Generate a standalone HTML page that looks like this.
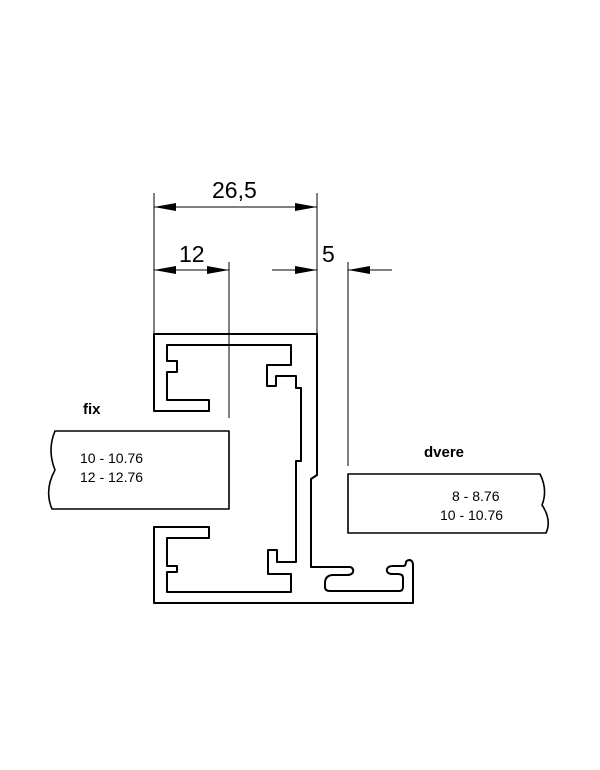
<!DOCTYPE html>
<html><head><style>body{margin:0;background:#fff}svg{display:block}</style></head><body>
<svg width="600" height="770" viewBox="0 0 600 770" xmlns="http://www.w3.org/2000/svg">
<rect width="600" height="770" fill="#fff"/>
<g stroke="#000" fill="none" stroke-linejoin="round">
<path stroke-width="2" d="M154,334 H317 V475 L311,479 V567 H350 Q354,568 353,572 Q352,575 347,575 H332 Q325,576 325,583 V587 Q325,591 330,591 H399 Q403,591 403,587 V578 Q403,574 398,574 H391 Q386,573 387,569 Q388,566 393,566 H403 Q406,566 406,562 Q407,560 410,560 Q413,561 413,565 V603 H154 V527 H209 V538 H167 V566 H177 V572 H167 V592 H291 V574 H268 V550 H277 V562 H296 V461 H301 V388 H296 V376 H276 V386 H267 V365 H291 V345 H167 V361 H177 V372 H167 V400 H209 V411 H154 Z"/>
<g stroke-width="1">
<path d="M154,193 V334 M317,193 V334 M229,262 V418 M348,262 V466"/>
<path d="M154,207 H317 M154,270 H229 M272,270 H317 M348,270 H392"/>
</g>
<path stroke-width="1.6" d="M229,431 H55 Q47,450 55,470 Q44,490 52,509 H229 Z"/>
<path stroke-width="1.6" d="M348,474 H540 Q548,490 542,505 Q552,520 546,533 H348 Z"/>
</g>
<g fill="#000">
<path d="M154,207 l22,-4 v8 z M317,207 l-22,-4 v8 z M154,270 l22,-4 v8 z M229,270 l-22,-4 v8 z M317,270 l-22,-4 v8 z M348,270 l22,-4 v8 z"/>
</g>
<g font-family="Liberation Sans, sans-serif" fill="#000">
<text x="212" y="198" font-size="23">26,5</text>
<text x="179" y="262" font-size="23">12</text>
<text x="322" y="262" font-size="23">5</text>
<text x="83" y="414" font-size="15" font-weight="bold">fix</text>
<text x="80" y="463" font-size="14">10 - 10.76</text>
<text x="80" y="482" font-size="14">12 - 12.76</text>
<text x="424" y="457" font-size="15" font-weight="bold">dvere</text>
<text x="452" y="501" font-size="14">8 - 8.76</text>
<text x="440" y="520" font-size="14">10 - 10.76</text>
</g>
</svg>
</body></html>
